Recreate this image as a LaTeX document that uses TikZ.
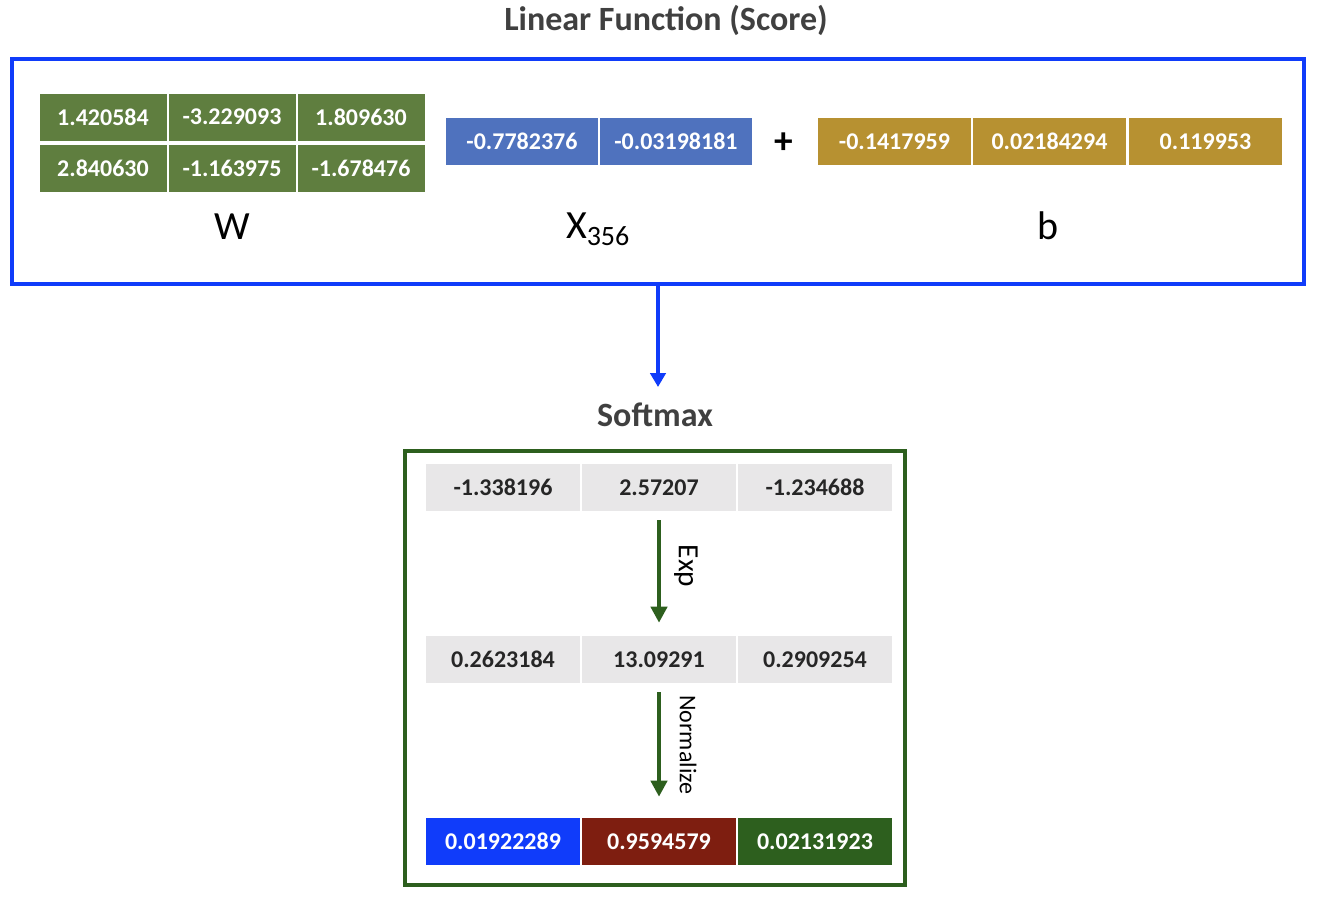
\documentclass[tikz,border=0pt]{standalone}
\usepackage{fontspec}
\setmainfont{Carlito}
\usetikzlibrary{arrows.meta}
\definecolor{wgreen}{RGB}{95,126,63}
\definecolor{xblue}{RGB}{79,114,190}
\definecolor{bgold}{RGB}{183,145,49}
\definecolor{brblue}{RGB}{16,60,250}
\definecolor{dgreen}{RGB}{45,95,30}
\definecolor{dred}{RGB}{126,30,16}
\definecolor{cgray}{RGB}{232,231,232}
\definecolor{tgray}{RGB}{64,64,64}
\definecolor{ctext}{RGB}{38,38,38}
\begin{document}
\begin{tikzpicture}[x=0.75pt,y=-0.75pt,
  cell/.style={inner sep=0pt, minimum height=35.25pt, text=white,
    font=\fontsize{18}{20}\selectfont\bfseries},
  wcell/.style={cell, fill=wgreen, minimum width=95.25pt},
  xcell/.style={cell, fill=xblue, minimum width=114pt},
  bcell/.style={cell, fill=bgold, minimum width=114.75pt},
  scell/.style={cell, minimum width=115.5pt},
  gcell/.style={scell, fill=cgray, text=ctext},
  title/.style={text=tgray, font=\fontsize{25.5}{28}\selectfont\bfseries},
  lbl/.style={inner sep=0pt, font=\fontsize{30}{32}\selectfont},
  rlbl/.style={inner sep=0pt, rotate=-90},
  frame/.style={draw, line width=3pt, inner sep=0pt, fill=none},
  garrow/.style={dgreen, line width=3.5pt, -{Triangle[length=12pt,width=12pt]}}
]
\useasboundingbox (0,0) rectangle (1320,896);

% title
\node[title] (t1) at (666,20) {Linear Function (Score)};

% blue frame
\node[frame, draw=brblue, minimum width=969pt, minimum height=168.75pt] (lin) at (658,171.5) {};

% W
\node[wcell] (w11) at (103,117) {1.420584};
\node[wcell] (w12) at (232,117) {-3.229093};
\node[wcell] (w13) at (361,117) {1.809630};
\node[wcell] (w21) at (103,168.5) {2.840630};
\node[wcell] (w22) at (232,168.5) {-1.163975};
\node[wcell] (w23) at (361,168.5) {-1.678476};
\node[lbl, anchor=base] (wl) at (232,239.5) {W};

% X
\node[xcell] (x1) at (522,141.5) {-0.7782376};
\node[xcell] (x2) at (676,141.5) {-0.03198181};
\node[lbl, anchor=base] (xl) at (598,238) {X\textsubscript{356}};

% plus
\node[inner sep=0pt, font=\fontsize{28}{30}\selectfont\bfseries] (plus) at (784,143) {+};

% b
\node[bcell] (b1) at (894.5,141.5) {-0.1417959};
\node[bcell] (b2) at (1049.5,141.5) {0.02184294};
\node[bcell] (b3) at (1205.5,141.5) {0.119953};
\node[lbl, anchor=base] (bl) at (1048,239.5) {b};

% softmax
\coordinate (a1) at (658,387);
\draw[brblue, line width=3.3pt, -{Triangle[length=10.5pt,width=11.5pt]}] (lin.south) -- (a1);
\node[title] (t2) at (655,415) {Softmax};
\node[frame, draw=dgreen, minimum width=375pt, minimum height=325.5pt] (sm) at (655,668) {};

\node[gcell] (s11) at (503,487.5) {-1.338196};
\node[gcell] (s12) at (659,487.5) {2.57207};
\node[gcell] (s13) at (815,487.5) {-1.234688};

\node[gcell] (s21) at (503,659.5) {0.2623184};
\node[gcell] (s22) at (659,659.5) {13.09291};
\node[gcell] (s23) at (815,659.5) {0.2909254};

\node[scell, fill=brblue] (s31) at (503,841.5) {0.01922289};
\node[scell, fill=dred] (s32) at (659,841.5) {0.9594579};
\node[scell, fill=dgreen] (s33) at (815,841.5) {0.02131923};

\draw[garrow, shorten <=6.75pt, shorten >=9.75pt] (s12.south) -- (s22.north);
\draw[garrow, shorten <=6.75pt, shorten >=15.75pt] (s22.south) -- (s32.north);

\node[rlbl, font=\fontsize{22}{24}\selectfont] (exp) at (686,566) {Exp};
\node[rlbl, font=\fontsize{18}{20}\selectfont] (nrm) at (688,745) {Normalize};
\end{tikzpicture}
\end{document}
